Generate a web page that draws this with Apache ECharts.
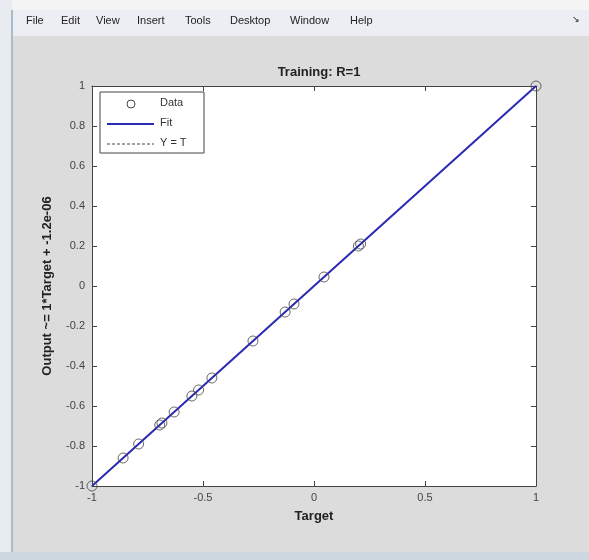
<!DOCTYPE html>
<html>
<head>
<meta charset="utf-8">
<script src="https://cdn.jsdelivr.net/npm/echarts@6/dist/echarts.min.js"></script>
<style>
html,body{margin:0;padding:0;background:#dcdcdc;}
#c{width:589px;height:560px;}
</style>
</head>
<body>
<div id="c"></div>
<script>
var titleText = 'Training: R=1';
var xName = 'Target';
var yName = 'Output ~= 1*Target + -1.2e-06';
var menuItems = ['File', 'Edit', 'View', 'Insert', 'Tools', 'Desktop', 'Window', 'Help'];
var targets = [-1, -0.86, -0.79, -0.695, -0.685, -0.63, -0.55, -0.52, -0.46, -0.275, -0.13, -0.09, 0.045, 0.2, 0.21, 1];
var outputs = [-1, -0.86, -0.79, -0.695, -0.685, -0.63, -0.55, -0.52, -0.46, -0.275, -0.13, -0.09, 0.045, 0.2, 0.21, 1];
var fitX = [-1, 1];
var fitY = [-1.0000012, 0.9999988];
var ytX = [-1, 1];
var ytY = [-1, 1];

var chart = echarts.init(document.getElementById('c'));
var font = 'Liberation Sans, Arial, sans-serif';
var menuX = [26, 61, 96, 137, 185, 230, 290, 350];
var menuGraphics = menuItems.map(function (m, i) {
  return {type: 'text', left: menuX[i], top: 15, style: {text: m, font: '11px ' + font, fill: '#222'}};
});
var tickStyle = {show: true, inside: true, length: 5, lineStyle: {color: '#444'}};
var lineStyle = {show: true, onZero: false, lineStyle: {color: '#444', width: 1}};
chart.setOption({
  backgroundColor: '#dcdcdc',
  animation: false,
  title: {text: titleText, left: 314, textAlign: 'center', top: 61,
    textStyle: {fontFamily: font, fontSize: 13, fontWeight: 'bold', color: '#222'}},
  graphic: [
    {type: 'rect', shape: {x: 0, y: 0, width: 589, height: 10}, style: {fill: '#f4f4f4'}, z: -1},
    {type: 'rect', shape: {x: 12, y: 10, width: 577, height: 26}, style: {fill: '#eceef3'}, z: -1},
    {type: 'rect', shape: {x: 0, y: 0, width: 12, height: 560}, style: {fill: '#e8ecf0'}, z: -1},
    {type: 'line', shape: {x1: 12, y1: 10, x2: 12, y2: 552}, style: {stroke: '#a9bccc', lineWidth: 2}, z: -1},
    {type: 'rect', shape: {x: 0, y: 552, width: 589, height: 8}, style: {fill: '#cdd8e0'}, z: -1},
    {type: 'text', left: 572, top: 15, style: {text: '↘', font: '9px ' + font, fill: '#222'}}
  ].concat(menuGraphics).concat([
    {type: 'rect', shape: {x: 100, y: 92, width: 104, height: 61}, style: {fill: '#fff', stroke: '#444', lineWidth: 1}, z: 10},
    {type: 'circle', shape: {cx: 131, cy: 104, r: 4}, style: {fill: 'none', stroke: '#444', lineWidth: 1}, z: 11},
    {type: 'text', left: 160, top: 97, style: {text: 'Data', font: '11px ' + font, fill: '#333'}, z: 11},
    {type: 'line', shape: {x1: 107, y1: 124, x2: 154, y2: 124}, style: {stroke: '#2a2ab4', lineWidth: 2}, z: 11},
    {type: 'text', left: 160, top: 117, style: {text: 'Fit', font: '11px ' + font, fill: '#333'}, z: 11},
    {type: 'line', shape: {x1: 107, y1: 144, x2: 154, y2: 144}, style: {stroke: '#444', lineWidth: 1, lineDash: [3, 2]}, z: 11},
    {type: 'text', left: 160, top: 137, style: {text: 'Y = T', font: '11px ' + font, fill: '#333'}, z: 11}
  ]),
  grid: {left: 92, right: 53, top: 86, bottom: 74, show: true, backgroundColor: '#ffffff', borderWidth: 0},
  xAxis: [{
    type: 'value', min: -1, max: 1, interval: 0.5, name: xName, nameLocation: 'middle', nameGap: 24,
    nameTextStyle: {fontFamily: font, fontSize: 13, fontWeight: 'bold', color: '#222'},
    axisLine: lineStyle, axisTick: tickStyle, splitLine: {show: false},
    axisLabel: {fontFamily: font, fontSize: 11, color: '#444', margin: 6,
      formatter: function (v) { return String(v); }}
  }, {
    type: 'value', min: -1, max: 1, interval: 0.5, position: 'top',
    axisLine: lineStyle, axisTick: tickStyle, splitLine: {show: false}, axisLabel: {show: false}
  }],
  yAxis: [{
    type: 'value', min: -1, max: 1, interval: 0.2, name: yName, nameLocation: 'middle', nameGap: 38,
    nameTextStyle: {fontFamily: font, fontSize: 13, fontWeight: 'bold', color: '#222'},
    axisLine: lineStyle, axisTick: tickStyle, splitLine: {show: false},
    axisLabel: {fontFamily: font, fontSize: 11, color: '#444', margin: 7,
      formatter: function (v) { return String(Math.round(v * 10) / 10); }}
  }, {
    type: 'value', min: -1, max: 1, interval: 0.2, position: 'right',
    axisLine: lineStyle, axisTick: tickStyle, splitLine: {show: false}, axisLabel: {show: false}
  }],
  series: [
    {name: 'Y = T', type: 'line', data: ytX.map(function (x, i) { return [x, ytY[i]]; }),
      showSymbol: false, symbol: 'none', lineStyle: {color: '#222', width: 1, type: 'dashed'}, z: 2},
    {name: 'Fit', type: 'line', data: fitX.map(function (x, i) { return [x, fitY[i]]; }),
      showSymbol: false, symbol: 'none', lineStyle: {color: '#2a2ab4', width: 2}, z: 3},
    {name: 'Data', type: 'scatter', data: targets.map(function (x, i) { return [x, outputs[i]]; }),
      symbol: 'circle', symbolSize: 10, clip: false,
      itemStyle: {color: 'rgba(0,0,0,0)', borderColor: '#444', borderWidth: 1}, z: 4}
  ]
});
</script>
</body>
</html>
